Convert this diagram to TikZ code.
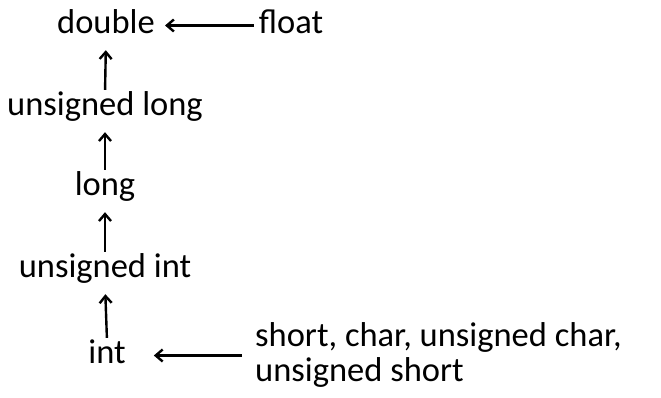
\documentclass[tikz,border=0pt]{standalone}
\usepackage{fontspec}
\setmainfont{Carlito}
\usepackage{tikz}
\usetikzlibrary{arrows.meta}

\begin{document}
\begin{tikzpicture}[x=1pt,y=-1pt,font=\fontsize{34.5}{35}\selectfont,
  every node/.style={inner sep=0pt,text height=22pt,text depth=7pt},
  conv/.style={line width=2.4pt,-{Straight Barb[length=7pt,width=12pt,line width=2.4pt]}},
  up/.style={conv,shorten <=3pt,shorten >=10pt}]
  \useasboundingbox (0,0) rectangle (661,397);
  % chain of conversions
  \node[anchor=base] (double) at (106,33) {double};
  \node[anchor=base] (float) at (291,33) {float};
  \node[anchor=base] (ulong) at (105,115) {unsigned long};
  \node[anchor=base] (long) at (105,195) {long};
  \node[anchor=base] (uint) at (105,277) {unsigned int};
  \node[anchor=base] (int) at (107,363) {int};
  \node[anchor=north west,align=left,text height=,text depth=] (small) at (255,322)
    {short, char, unsigned char,\\unsigned short};
  \draw[conv,shorten <=5pt,shorten >=10pt] (float.west) -- (double.east);
  \draw[up] (ulong.north) -- (double.south);
  \draw[up] (long.north) -- (ulong.south);
  \draw[up] (uint.north) -- (long.south);
  \draw[up] (int.north) -- (uint.south);
  \draw[conv,shorten <=13pt,shorten >=28pt] (int -| small.west) -- (int.east);
\end{tikzpicture}
\end{document}
